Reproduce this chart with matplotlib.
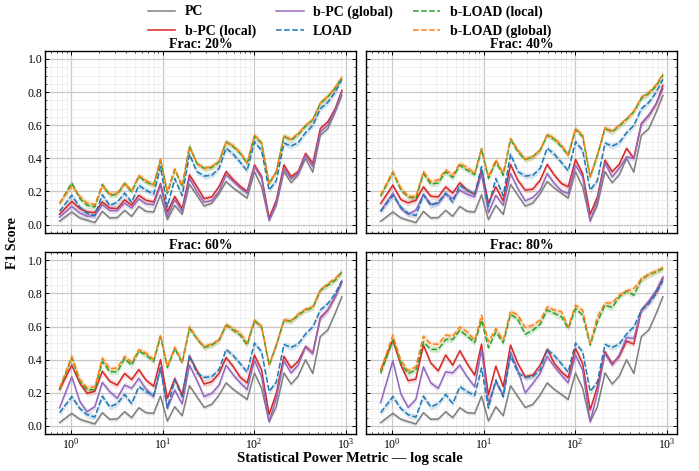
import numpy as np
import matplotlib
matplotlib.use('Agg')
import matplotlib.pyplot as plt
from matplotlib.ticker import AutoMinorLocator, LogLocator, NullFormatter

# statistical power metric (x, log scale)
x_vals = [0.75, 1.02, 1.25, 1.5, 1.82, 2.2, 2.65, 3.2, 3.85, 4.6, 5.5, 6.6, 8.0, 9.5,
          11.3, 13.6, 16.4, 19.7, 23.7, 28.5, 34.5, 41.5, 49.5, 59.5, 71, 84, 101, 121,
          146, 175, 212, 254, 303, 365, 438, 530, 640, 770, 910]

methods = ['PC', 'b-PC (local)', 'b-PC (global)', 'LOAD', 'b-LOAD (local)', 'b-LOAD (global)']
fracs = ['Frac: 20%', 'Frac: 40%', 'Frac: 60%', 'Frac: 80%']

# PC and LOAD do not change with frac
pc = [0.02, 0.076, 0.04, 0.026, 0.012, 0.08, 0.04, 0.042, 0.086, 0.05, 0.11, 0.08, 0.076, 0.18,
      0.03, 0.116, 0.062, 0.243, 0.177, 0.112, 0.13, 0.187, 0.26, 0.22, 0.19, 0.16, 0.32, 0.227,
      0.026, 0.116, 0.32, 0.253, 0.3, 0.4, 0.317, 0.54, 0.58, 0.68, 0.78]
load = [0.08, 0.177, 0.105, 0.068, 0.054, 0.18, 0.115, 0.135, 0.19, 0.135, 0.237, 0.208, 0.184, 0.35,
        0.108, 0.278, 0.175, 0.425, 0.32, 0.293, 0.298, 0.34, 0.462, 0.424, 0.375, 0.325, 0.5, 0.448,
        0.208, 0.265, 0.492, 0.474, 0.494, 0.555, 0.598, 0.7, 0.738, 0.8, 0.877]

# frac 20%
bpc_local_20 = [0.062, 0.14, 0.097, 0.077, 0.073, 0.137, 0.1, 0.097, 0.15, 0.117, 0.177, 0.147, 0.137, 0.248,
                0.077, 0.17, 0.097, 0.3, 0.23, 0.157, 0.167, 0.23, 0.32, 0.27, 0.23, 0.2, 0.36, 0.29,
                0.04, 0.147, 0.36, 0.29, 0.32, 0.43, 0.37, 0.58, 0.62, 0.7, 0.81]
bpc_global_20 = [0.045, 0.11, 0.07, 0.05, 0.055, 0.12, 0.085, 0.085, 0.13, 0.1, 0.155, 0.125, 0.12, 0.24,
                 0.05, 0.15, 0.08, 0.28, 0.2, 0.135, 0.145, 0.2, 0.3, 0.26, 0.22, 0.19, 0.35, 0.28,
                 0.025, 0.13, 0.34, 0.275, 0.31, 0.42, 0.35, 0.56, 0.6, 0.69, 0.8]
bload_local_20 = [0.127, 0.252, 0.157, 0.117, 0.107, 0.242, 0.177, 0.183, 0.248, 0.198, 0.292, 0.258, 0.238, 0.389,
                  0.188, 0.333, 0.228, 0.474, 0.369, 0.339, 0.345, 0.379, 0.5, 0.47, 0.429, 0.369, 0.534, 0.49,
                  0.248, 0.319, 0.534, 0.51, 0.544, 0.595, 0.631, 0.732, 0.772, 0.823, 0.889]
bload_global_20 = [0.13, 0.235, 0.17, 0.13, 0.12, 0.235, 0.185, 0.19, 0.25, 0.205, 0.295, 0.265, 0.24, 0.395,
                   0.2, 0.335, 0.235, 0.47, 0.37, 0.34, 0.35, 0.385, 0.5, 0.475, 0.435, 0.37, 0.54, 0.495,
                   0.25, 0.32, 0.535, 0.515, 0.55, 0.6, 0.635, 0.735, 0.775, 0.83, 0.89]

# frac 40%
bpc_local_40 = [0.127, 0.238, 0.151, 0.131, 0.147, 0.228, 0.171, 0.167, 0.228, 0.19, 0.252, 0.208, 0.183, 0.329,
                0.131, 0.228, 0.143, 0.363, 0.268, 0.208, 0.214, 0.268, 0.363, 0.298, 0.248, 0.228, 0.393, 0.308,
                0.062, 0.167, 0.389, 0.319, 0.363, 0.46, 0.4, 0.61, 0.66, 0.73, 0.84]
bpc_global_40 = [0.083, 0.19, 0.097, 0.062, 0.087, 0.183, 0.123, 0.127, 0.187, 0.157, 0.208, 0.183, 0.167, 0.308,
                 0.071, 0.177, 0.117, 0.308, 0.218, 0.143, 0.163, 0.208, 0.308, 0.248, 0.204, 0.187, 0.359, 0.288,
                 0.02, 0.147, 0.373, 0.288, 0.339, 0.409, 0.399, 0.61, 0.66, 0.73, 0.82]
bload_local_40 = [0.171, 0.315, 0.208, 0.167, 0.157, 0.308, 0.244, 0.252, 0.319, 0.284, 0.359, 0.329, 0.302, 0.454,
                  0.278, 0.379, 0.298, 0.514, 0.44, 0.393, 0.409, 0.45, 0.54, 0.514, 0.47, 0.419, 0.575, 0.53,
                  0.288, 0.419, 0.581, 0.56, 0.595, 0.635, 0.681, 0.762, 0.792, 0.837, 0.903]
bload_global_40 = [0.18, 0.32, 0.22, 0.17, 0.17, 0.32, 0.26, 0.27, 0.33, 0.3, 0.37, 0.345, 0.31, 0.46,
                   0.29, 0.39, 0.31, 0.52, 0.45, 0.395, 0.41, 0.45, 0.545, 0.52, 0.48, 0.42, 0.58, 0.54,
                   0.29, 0.42, 0.585, 0.565, 0.6, 0.64, 0.685, 0.77, 0.8, 0.845, 0.91]

# frac 60%
bpc_local_60 = [0.22, 0.367, 0.257, 0.197, 0.21, 0.33, 0.27, 0.247, 0.317, 0.28, 0.34, 0.277, 0.24, 0.4,
                0.167, 0.287, 0.187, 0.42, 0.337, 0.253, 0.267, 0.317, 0.413, 0.357, 0.293, 0.26, 0.428, 0.337,
                0.07, 0.197, 0.42, 0.35, 0.39, 0.48, 0.44, 0.655, 0.7, 0.78, 0.87]
bpc_global_60 = [0.11, 0.297, 0.147, 0.086, 0.116, 0.263, 0.207, 0.167, 0.247, 0.227, 0.287, 0.223, 0.177, 0.353,
                 0.106, 0.217, 0.133, 0.367, 0.277, 0.177, 0.197, 0.247, 0.367, 0.307, 0.26, 0.22, 0.397, 0.297,
                 0.026, 0.167, 0.393, 0.32, 0.367, 0.478, 0.437, 0.65, 0.7, 0.78, 0.873]
bload_local_60 = [0.22, 0.413, 0.267, 0.217, 0.22, 0.39, 0.327, 0.327, 0.407, 0.367, 0.454, 0.428, 0.39, 0.54,
                  0.353, 0.468, 0.38, 0.588, 0.528, 0.474, 0.488, 0.518, 0.608, 0.578, 0.548, 0.488, 0.635, 0.598,
                  0.367, 0.488, 0.638, 0.632, 0.668, 0.7, 0.713, 0.82, 0.85, 0.88, 0.93]
bload_global_60 = [0.23, 0.42, 0.28, 0.23, 0.235, 0.41, 0.345, 0.35, 0.42, 0.385, 0.46, 0.44, 0.4, 0.55,
                   0.36, 0.475, 0.39, 0.6, 0.53, 0.48, 0.495, 0.52, 0.615, 0.585, 0.56, 0.5, 0.64, 0.6,
                   0.37, 0.49, 0.64, 0.635, 0.675, 0.705, 0.72, 0.82, 0.86, 0.89, 0.93]

# frac 80%
bpc_local_80 = [0.337, 0.518, 0.367, 0.273, 0.283, 0.488, 0.38, 0.333, 0.428, 0.367, 0.454, 0.377, 0.307, 0.494,
                0.187, 0.361, 0.237, 0.488, 0.377, 0.297, 0.307, 0.367, 0.462, 0.377, 0.327, 0.291, 0.468, 0.377,
                0.096, 0.237, 0.448, 0.377, 0.418, 0.512, 0.494, 0.7, 0.75, 0.81, 0.89]
bpc_global_80 = [0.14, 0.394, 0.193, 0.112, 0.16, 0.357, 0.26, 0.227, 0.327, 0.32, 0.367, 0.297, 0.237, 0.462,
                 0.137, 0.267, 0.187, 0.448, 0.337, 0.2, 0.257, 0.317, 0.42, 0.357, 0.307, 0.26, 0.428, 0.337,
                 0.026, 0.197, 0.438, 0.367, 0.428, 0.534, 0.528, 0.7, 0.755, 0.82, 0.9]
bload_local_80 = [0.317, 0.518, 0.377, 0.317, 0.337, 0.508, 0.462, 0.462, 0.522, 0.522, 0.578, 0.542, 0.504, 0.638,
                  0.472, 0.568, 0.502, 0.675, 0.643, 0.554, 0.578, 0.614, 0.7, 0.679, 0.659, 0.588, 0.709, 0.669,
                  0.488, 0.628, 0.729, 0.715, 0.779, 0.815, 0.789, 0.884, 0.914, 0.93, 0.95]
bload_global_80 = [0.337, 0.548, 0.394, 0.333, 0.357, 0.542, 0.494, 0.494, 0.548, 0.542, 0.598, 0.568, 0.518, 0.669,
                   0.508, 0.588, 0.518, 0.693, 0.669, 0.594, 0.608, 0.638, 0.719, 0.699, 0.689, 0.598, 0.729, 0.699,
                   0.498, 0.659, 0.743, 0.743, 0.789, 0.815, 0.829, 0.89, 0.916, 0.936, 0.956]

# half width of the shaded band per method
band = [0.012, 0.018, 0.018, 0.018, 0.018, 0.018]


if __name__ == '__main__':

    plt.rcParams['font.family'] = 'serif'
    plt.rcParams['font.serif'] = ['Liberation Serif', 'DejaVu Serif']
    plt.rcParams['mathtext.fontset'] = 'stix'

    colors = ['#7f7f7f', '#d62728', '#9467bd', '#1f77b4', '#2ca02c', '#ff7f0e']
    styles = ['-', '-', '-', '--', '--', '--']

    panels = [
        [pc, bpc_local_20, bpc_global_20, load, bload_local_20, bload_global_20],
        [pc, bpc_local_40, bpc_global_40, load, bload_local_40, bload_global_40],
        [pc, bpc_local_60, bpc_global_60, load, bload_local_60, bload_global_60],
        [pc, bpc_local_80, bpc_global_80, load, bload_local_80, bload_global_80],
    ]

    fig, axes = plt.subplots(2, 2, figsize=(6.99, 4.71), dpi=100, sharex=True, sharey=True)
    fig.subplots_adjust(left=0.065, right=0.9685, top=0.8924, bottom=0.078, wspace=0.034, hspace=0.105)

    x = np.array(x_vals)
    for p, ax in enumerate(axes.flat):
        for m in range(len(methods)):
            y = np.array(panels[p][m])
            ax.fill_between(x, y - band[m], y + band[m], color=colors[m], alpha=0.18, lw=0)
            ax.plot(x, y, color=colors[m], ls=styles[m], lw=1.1, label=methods[m])

        ax.set_xscale('log')
        ax.set_ylim(-0.05, 1.05)
        ax.set_yticks([0.0, 0.2, 0.4, 0.6, 0.8, 1.0])
        ax.yaxis.set_minor_locator(AutoMinorLocator(4))
        ax.xaxis.set_minor_locator(LogLocator(base=10, subs=np.arange(2, 10), numticks=20))
        ax.xaxis.set_minor_formatter(NullFormatter())
        ax.grid(True, which='major', color='#c8c8c8', lw=0.9)
        ax.grid(True, which='minor', color='#ececec', lw=0.5)
        ax.set_axisbelow(True)
        ax.tick_params(which='both', direction='in', top=True, right=True, labelsize=8.5, pad=2)
        ax.tick_params(which='major', length=3, width=0.7)
        ax.tick_params(which='minor', length=1.5, width=0.5)
        for s in ax.spines.values():
            s.set_linewidth(1.0)
        ax.set_title(fracs[p], fontsize=10, fontweight='bold', pad=2)

    for ax in axes[:, 1]:
        ax.tick_params(labelleft=False)

    handles, labels = axes[0, 0].get_legend_handles_labels()
    fig.legend(handles, labels, loc='upper center', bbox_to_anchor=(0.5, 0.995), ncol=3,
               frameon=False, prop={'weight': 'bold', 'size': 10}, columnspacing=1.4,
               labelspacing=0.45, borderaxespad=0.1, borderpad=0.1, handletextpad=0.7)

    fig.text(0.5, 0.026, 'Statistical Power Metric — log scale', ha='center', va='center',
             fontsize=10.5, fontweight='bold')
    fig.text(0.018, 0.485, 'F1 Score', ha='center', va='center', rotation=90,
             fontsize=10, fontweight='bold')

    fig.savefig('out.png', dpi=100)
